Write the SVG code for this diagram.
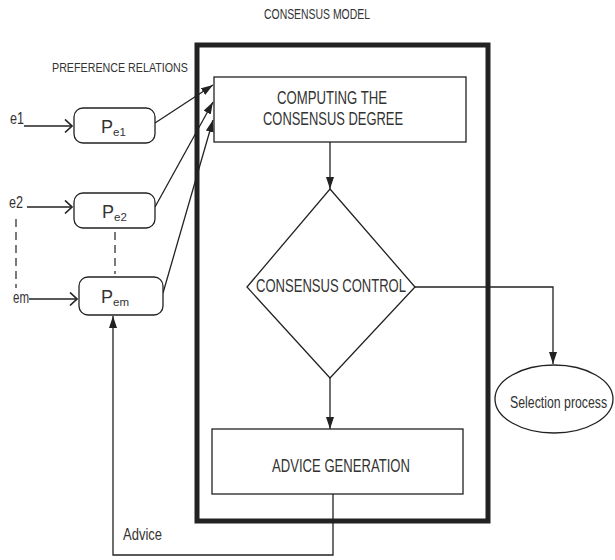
<svg xmlns="http://www.w3.org/2000/svg" width="615" height="560" viewBox="0 0 615 560">
  <defs>
    <marker id="solid" markerUnits="userSpaceOnUse" markerWidth="14" markerHeight="10" refX="12" refY="4" orient="auto">
      <path d="M0,0 L12,4 L0,8 Z" fill="#222"/>
    </marker>
    <marker id="open" markerUnits="userSpaceOnUse" markerWidth="12" markerHeight="16" refX="9" refY="7" orient="auto">
      <path d="M2,0.5 L9,7 L2,13.5" fill="none" stroke="#222" stroke-width="1.7"/>
    </marker>
    <style>
      text { font-family: "Liberation Sans", Arial, sans-serif; fill: #333; }
      .box { fill: #fff; stroke: #222; stroke-width: 1.3; }
      .frame { fill: none; stroke: #222; stroke-width: 5; }
      .link { fill: none; stroke: #222; stroke-width: 1.3; }
      .dash { fill: none; stroke: #222; stroke-width: 1.2; stroke-dasharray: 8 5; }
      .lbl { font-size: 17.5px; }
      .small { font-size: 12px; }
      .p { font-size: 18px; }
      .sub { font-size: 11.5px; }
    </style>
  </defs>

  <!-- titles -->
  <text x="264" y="19" font-size="15.5" textLength="106" lengthAdjust="spacingAndGlyphs">CONSENSUS MODEL</text>
  <text x="52" y="72" class="small" textLength="136" lengthAdjust="spacingAndGlyphs">PREFERENCE  RELATIONS</text>

  <!-- consensus model frame -->
  <g id="consensus-model">
    <rect class="frame" x="197" y="45" width="291" height="476"/>
  </g>

  <!-- connectors -->
  <g id="connectors">
    <line class="link" x1="24" y1="126" x2="72" y2="126" marker-end="url(#open)"/>
    <line class="link" x1="27" y1="207" x2="72" y2="207" marker-end="url(#open)"/>
    <line class="link" x1="29" y1="299" x2="77" y2="299" marker-end="url(#open)"/>
    <line class="dash" x1="16" y1="219" x2="16" y2="288"/>
    <line class="dash" x1="115" y1="232" x2="115" y2="274"/>
    <line class="link" x1="155" y1="123" x2="213" y2="85" marker-end="url(#solid)"/>
    <line class="link" x1="155" y1="207" x2="213" y2="102" marker-end="url(#solid)"/>
    <line class="link" x1="163" y1="293" x2="213" y2="120" marker-end="url(#solid)"/>
    <line class="link" x1="330" y1="142" x2="330" y2="189" marker-end="url(#solid)"/>
    <line class="link" x1="330" y1="378" x2="330" y2="429" marker-end="url(#solid)"/>
    <polyline class="link" points="415,287 553,287 553,364" marker-end="url(#solid)"/>
    <polyline class="link" points="333,494 333,555 113,555 113,316" marker-end="url(#solid)"/>
    <text x="123" y="540" font-size="16.5" textLength="39" lengthAdjust="spacingAndGlyphs">Advice</text>
  </g>

  <!-- experts -->
  <g id="e1"><text x="10" y="124" font-size="16" textLength="14" lengthAdjust="spacingAndGlyphs">e1</text></g>
  <g id="e2"><text x="9" y="208" font-size="16" textLength="14" lengthAdjust="spacingAndGlyphs">e2</text></g>
  <g id="em"><text x="13" y="303" font-size="16" textLength="16" lengthAdjust="spacingAndGlyphs">em</text></g>

  <!-- preference relations -->
  <g id="pe1">
    <rect class="box" x="74" y="108" width="81" height="35" rx="9"/>
    <text x="101" y="133" class="p">P<tspan class="sub" dy="3">e1</tspan></text>
  </g>
  <g id="pe2">
    <rect class="box" x="74" y="193" width="81" height="35" rx="9"/>
    <text x="102" y="218" class="p">P<tspan class="sub" dy="3">e2</tspan></text>
  </g>
  <g id="pem">
    <rect class="box" x="79" y="277" width="84" height="38" rx="9"/>
    <text x="101" y="303" class="p">P<tspan class="sub" dy="3">em</tspan></text>
  </g>

  <!-- computing the consensus degree -->
  <g id="computing">
    <rect class="box" x="214" y="77" width="252" height="65"/>
    <text x="277" y="104" class="lbl" textLength="110" lengthAdjust="spacingAndGlyphs">COMPUTING THE</text>
    <text x="263" y="125" class="lbl" textLength="140" lengthAdjust="spacingAndGlyphs">CONSENSUS DEGREE</text>
  </g>

  <!-- consensus control -->
  <g id="control">
    <polygon class="box" points="330,189 415,287 330,378 247,287"/>
    <text x="256" y="292" class="lbl" textLength="150" lengthAdjust="spacingAndGlyphs">CONSENSUS CONTROL</text>
  </g>

  <!-- advice generation -->
  <g id="advice">
    <rect class="box" x="212" y="429" width="251" height="65"/>
    <text x="272" y="472" class="lbl" textLength="138" lengthAdjust="spacingAndGlyphs">ADVICE GENERATION</text>
  </g>

  <!-- selection process -->
  <g id="selection">
    <ellipse class="box" cx="554" cy="399" rx="59" ry="34"/>
    <text transform="translate(510,408) scale(0.77,1)" x="0" y="0" font-size="16">Selection process</text>
  </g>
</svg>
